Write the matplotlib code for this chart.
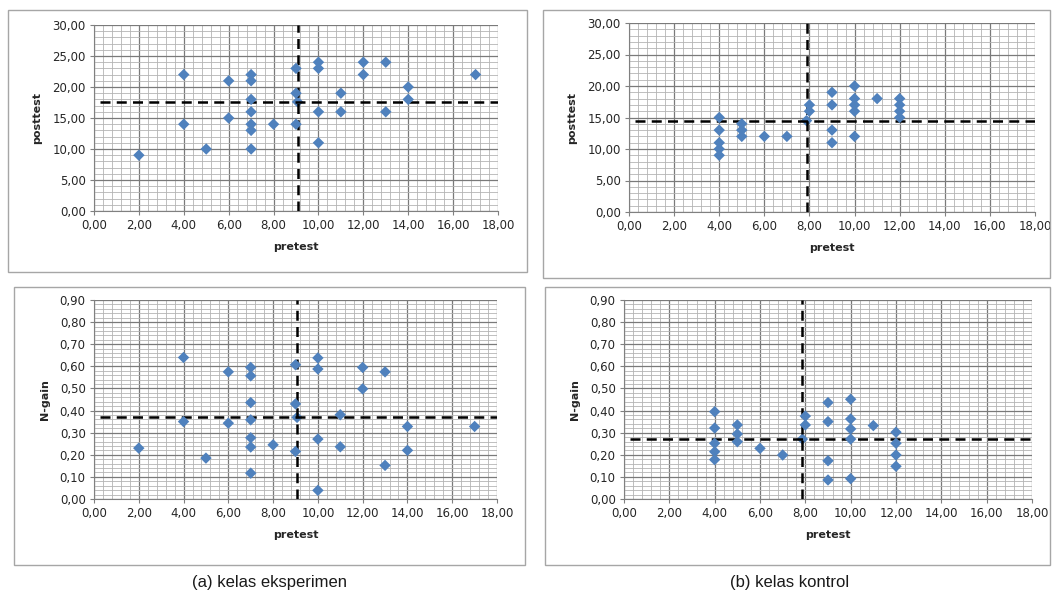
import matplotlib
matplotlib.use("Agg")
import matplotlib.pyplot as plt
from matplotlib.patches import Rectangle
from matplotlib.ticker import MultipleLocator, FuncFormatter

# ── данные: (a) kelas eksperimen ─────────────────────────────────────────────
pre_a = [2, 4, 4, 5, 6, 6, 7, 7, 7, 7, 7, 7, 7, 8, 9, 9, 9,
         10, 10, 10, 10, 11, 11, 12, 12, 13, 13, 14, 14, 17]
post_a = [9, 22, 14, 10, 21, 15, 22, 21, 18, 16, 14, 13, 10, 14, 23, 19, 14,
          24, 23, 16, 11, 19, 16, 24, 22, 24, 16, 20, 18, 22]
pre_a_g = [2, 4, 4, 5, 6, 6, 7, 7, 7, 7, 7, 7, 7, 8, 9, 9, 9,
           10, 10, 10, 10, 11, 11, 12, 12, 13, 13, 14, 14, 17]
gain_a = [0.23, 0.64, 0.35, 0.185, 0.575, 0.343, 0.595, 0.557, 0.436, 0.358,
          0.277, 0.235, 0.117, 0.245, 0.607, 0.43, 0.215, 0.638, 0.588, 0.271,
          0.039, 0.381, 0.236, 0.595, 0.498, 0.575, 0.152, 0.328, 0.22, 0.328]
mean_a = dict(pre=9.07, post=17.6, gain=0.369)

# ── данные: (b) kelas kontrol ────────────────────────────────────────────────
pre_b = [4, 4, 4, 4, 4, 5, 5, 5, 6, 7, 8, 8, 9, 9, 9, 9,
         10, 10, 10, 10, 10, 11, 12, 12, 12, 12]
post_b = [15, 13, 11, 10, 9, 14, 13, 12, 12, 12, 17, 16, 19, 17, 13, 11,
          20, 18, 17, 16, 12, 18, 18, 17, 16, 15]
gain_b = [0.395, 0.321, 0.252, 0.214, 0.178, 0.335, 0.294, 0.259, 0.229, 0.199,
          0.375, 0.335, 0.436, 0.35, 0.173, 0.086, 0.451, 0.362, 0.317, 0.271,
          0.092, 0.332, 0.302, 0.252, 0.199, 0.148]
mean_b = dict(pre=7.87, post=14.5, gain=0.271)

captions = ["(a) kelas eksperimen", "(b) kelas kontrol"]

W, H = 1056, 601
BLUE = "#4F81BD"

fig = plt.figure(figsize=(W / 100, H / 100), dpi=100)
fig.patch.set_facecolor("white")


def box(x0, y0, x1, y1):
    """Рамка диаграммы Excel в пикселях."""
    fig.patches.append(Rectangle((x0 / W, 1 - y1 / H), (x1 - x0) / W, (y1 - y0) / H,
                                 transform=fig.transFigure, fill=False,
                                 edgecolor="#a6a6a6", lw=1.0))


def comma(v, _):
    return f"{v:.2f}".replace(".", ",")


def panel(x0, x1, ytop, ybot, xs, ys, mean_x, mean_y, ymax, ymajor, yminor, ylabel):
    ax = fig.add_axes([x0 / W, 1 - ybot / H, (x1 - x0) / W, (ybot - ytop) / H])
    ax.set_xlim(0, 18)
    ax.set_ylim(0, ymax)
    ax.xaxis.set_major_locator(MultipleLocator(2))
    ax.xaxis.set_minor_locator(MultipleLocator(0.4))
    ax.yaxis.set_major_locator(MultipleLocator(ymajor))
    ax.yaxis.set_minor_locator(MultipleLocator(yminor))
    ax.xaxis.set_major_formatter(FuncFormatter(comma))
    ax.yaxis.set_major_formatter(FuncFormatter(comma))
    ax.grid(which="minor", color="#b4b4b4", lw=0.6)
    ax.grid(which="major", color="#7a7a7a", lw=0.9)
    ax.set_axisbelow(True)
    for s in ["top", "right"]:
        ax.spines[s].set_visible(False)
    for s in ["left", "bottom"]:
        ax.spines[s].set_color("#808080")
    ax.tick_params(which="major", length=3, color="#808080", labelsize=8.5,
                   labelcolor="#262626", pad=3)
    ax.tick_params(which="minor", length=0)

    ax.plot([0.25, 18], [mean_y, mean_y], ls=(0, (4, 2.5)), color="black", lw=1.8, zorder=3)
    ax.plot([mean_x, mean_x], [0, ymax], ls=(0, (4, 2.5)), color="black", lw=1.8, zorder=3)
    ax.scatter(xs, ys, marker="D", s=34, color=BLUE, edgecolors="none", zorder=4)
    ax.scatter([mean_x], [mean_y], marker="D", s=34, color=BLUE, edgecolors="none", zorder=2.5)

    ax.set_xlabel("pretest", fontsize=8, fontweight="bold", color="#262626", labelpad=7)
    ax.set_ylabel(ylabel, fontsize=8, fontweight="bold", color="#262626", labelpad=7)
    return ax


# рамки
box(8, 10, 527, 272)
box(543, 10, 1050, 278)
box(14, 287, 525, 565)
box(545, 287, 1050, 565)

panel(94, 498, 25, 211, pre_a, post_a, mean_a["pre"], mean_a["post"], 30, 5, 1, "posttest")
panel(629, 1035, 23, 212, pre_b, post_b, mean_b["pre"], mean_b["post"], 30, 5, 1, "posttest")
panel(94, 497, 300, 499, pre_a_g, gain_a, mean_a["pre"], mean_a["gain"], 0.9, 0.1, 0.02, "N-gain")
panel(624, 1032, 300, 499, pre_b, gain_b, mean_b["pre"], mean_b["gain"], 0.9, 0.1, 0.02, "N-gain")

for cx, txt in zip([270, 790], captions):
    fig.text(cx / W, 1 - 582 / H, txt, ha="center", va="center", fontsize=12,
             family=["Liberation Sans Narrow", "Liberation Sans", "DejaVu Sans"],
             color="#1a1a1a")

fig.savefig("out.png", dpi=100)
